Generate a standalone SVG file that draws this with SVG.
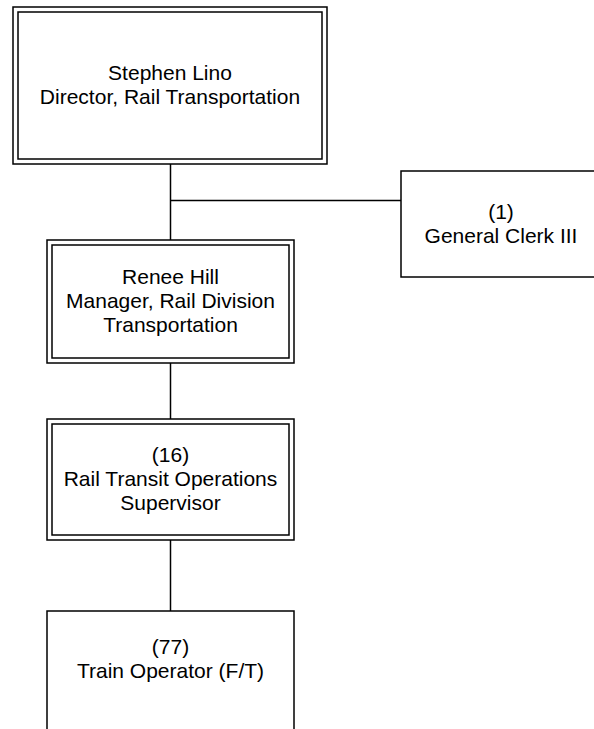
<svg xmlns="http://www.w3.org/2000/svg" width="594" height="729" viewBox="0 0 594 729">
<style>
.b{fill:none;stroke:#000;stroke-width:1.5}
.c{fill:none;stroke:#000;stroke-width:1.5}
.t{font-family:"Liberation Sans",Arial,sans-serif;font-size:21px;fill:#000;text-anchor:middle}
</style>
<rect x="0" y="0" width="594" height="729" fill="#fff"/>
<g id="connectors">
<line class="c" x1="170.5" y1="164" x2="170.5" y2="240"/>
<line class="c" x1="170.5" y1="200.5" x2="401" y2="200.5"/>
<line class="c" x1="170.5" y1="363" x2="170.5" y2="419"/>
<line class="c" x1="170.5" y1="540" x2="170.5" y2="611"/>
</g>
<g id="director">
<rect class="b" x="13" y="7" width="314" height="157"/>
<rect class="b" x="18" y="12" width="304" height="147"/>
<text class="t" x="170" y="80">Stephen Lino</text>
<text class="t" x="170" y="104">Director, Rail Transportation</text>
</g>
<g id="clerk">
<rect class="b" x="401" y="171" width="200" height="106"/>
<text class="t" x="501" y="219">(1)</text>
<text class="t" x="501" y="243">General Clerk III</text>
</g>
<g id="manager">
<rect class="b" x="47" y="240" width="247" height="123"/>
<rect class="b" x="52" y="245" width="237" height="113"/>
<text class="t" x="170.5" y="284">Renee Hill</text>
<text class="t" x="170.5" y="308">Manager, Rail Division</text>
<text class="t" x="170.5" y="332">Transportation</text>
</g>
<g id="supervisor">
<rect class="b" x="47" y="419" width="247" height="121"/>
<rect class="b" x="52" y="424" width="237" height="111"/>
<text class="t" x="170.5" y="462">(16)</text>
<text class="t" x="170.5" y="486">Rail Transit Operations</text>
<text class="t" x="170.5" y="510">Supervisor</text>
</g>
<g id="operator">
<rect class="b" x="47" y="611" width="247" height="130"/>
<text class="t" x="170.5" y="654">(77)</text>
<text class="t" x="170.5" y="678">Train Operator (F/T)</text>
</g>
</svg>
